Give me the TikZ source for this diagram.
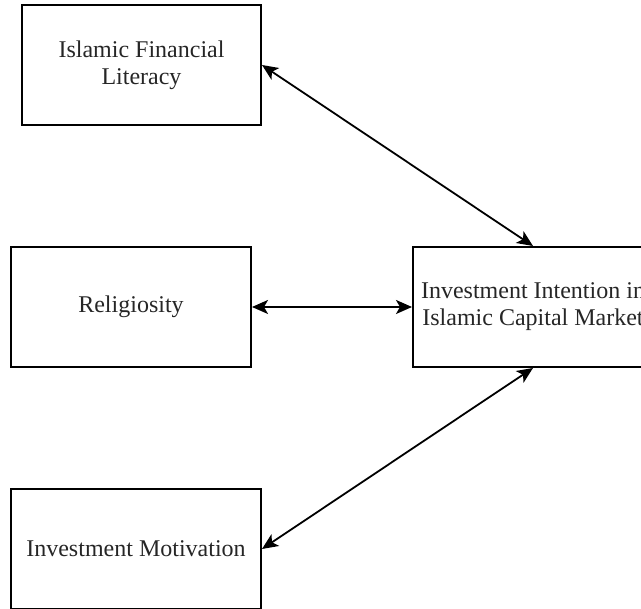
\documentclass[tikz,border=0pt]{standalone}
\usepackage{fontspec}
\setmainfont{Liberation Serif}
\usepackage{tikz}
\usetikzlibrary{positioning,arrows.meta}
\tikzset{varbox/.style={draw,line width=2pt,minimum width=240pt,minimum height=120pt,align=center,inner sep=2pt,
    font=\fontsize{24}{27}\selectfont,text=black!85}}
\tikzset{link/.style={{Stealth[length=16pt,width=14pt,inset=4pt]}-{Stealth[length=16pt,width=14pt,inset=4pt]},line width=1.8pt}}

\begin{document}
\begin{tikzpicture}[x=1pt,y=1pt]
  \useasboundingbox (0,0) rectangle (641,609);
  \node[varbox] (rel) at (131,302) {Religiosity};
  \node[varbox,minimum width=239pt,above=120pt of rel,xshift=10.5pt] (ifl) {Islamic Financial\\Literacy};
  \node[varbox,minimum width=250pt,below=120pt of rel,xshift=5pt] (mot) {Investment Motivation};
  \node[varbox,right=160pt of rel] (intent) {Investment Intention in\\Islamic Capital Market};

  \draw[link] (ifl.east) -- (intent.north);
  \draw[link] (rel) -- (intent);
  \draw[link] (mot.east) -- (intent.south);
\end{tikzpicture}
\end{document}
